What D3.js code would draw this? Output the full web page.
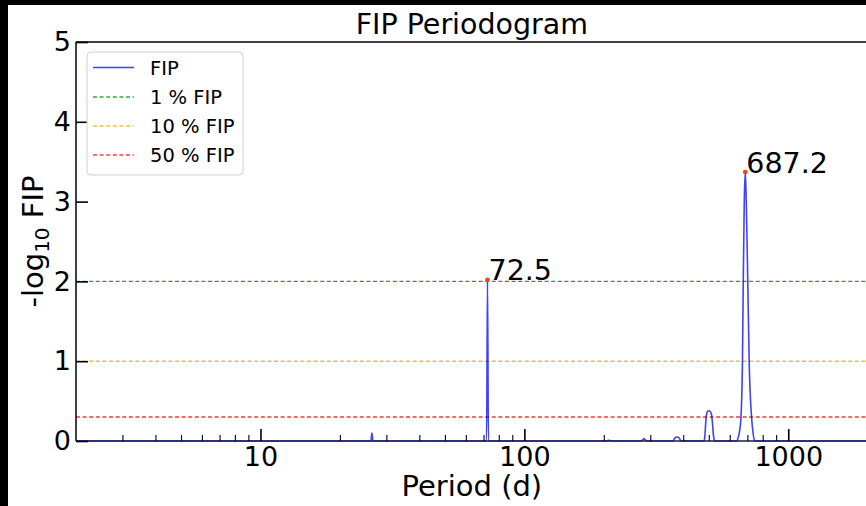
<!DOCTYPE html>
<html>
<head>
<meta charset="utf-8">
<script src="https://cdn.jsdelivr.net/npm/d3@7"></script>
<style>
  html, body { margin: 0; padding: 0; background: #000; }
  svg { display: block; }
  text { font-family: "DejaVu Sans", sans-serif; fill: #000; }
</style>
</head>
<body>
<svg id="chart" width="866" height="506"></svg>
<script>
// ---------- data ----------
const curvePeriod = [2, 26.2, 26.45, 26.7, 71.9, 72.5, 73.1,
  203, 209, 216, 277, 284, 291, 366, 372, 379, 386, 392,
  479, 483, 486, 490, 495, 500, 506, 512, 517, 521, 527,
  635.3, 652.1, 661.9, 670.6, 675.3, 681.2, 687.2, 693.2, 702.4, 711.0, 726.0, 735.6, 746.5, 2000];
const curveFIP = [0, 0, 0.1, 0, 0, 2.02, 0,
  0, 0.008, 0, 0, 0.03, 0, 0, 0.04, 0.05, 0.04, 0,
  0, 0.06, 0.2, 0.33, 0.375, 0.38, 0.37, 0.33, 0.2, 0.06, 0,
  0, 0.1, 0.3, 1.0, 2.0, 3.0, 3.37, 3.0, 2.0, 1.0, 0.3, 0.1, 0, 0];
const thresholdValues = [2, 1, 0.30103];
const thresholdLabels = ["1 % FIP", "10 % FIP", "50 % FIP"];
const thresholdColors = ["green", "orange", "red"];
const peakPeriods = [72.5, 687.2];
const peakValues = [2.02, 3.37];
const peakLabels = ["72.5", "687.2"];
const xTicks = [10, 100, 1000];
const yTicks = [0, 1, 2, 3, 4, 5];
const xDomain = [2, 2000];
const yDomain = [0, 5];

// ---------- layout ----------
const svg = d3.select("#chart");
svg.append("rect").attr("x", 8).attr("y", 5).attr("width", 858).attr("height", 501).attr("fill", "#fff");

const pLeft = 76, pRight = 76 + 3 * 263.9, pTop = 42, pBottom = 441;
const x = d3.scaleLog().domain(xDomain).range([pLeft, pRight]);
const y = d3.scaleLinear().domain(yDomain).range([pBottom, pTop]);

const plot = svg.append("g");
plot.append("clipPath").attr("id", "clip").append("rect")
  .attr("x", pLeft).attr("y", pTop - 5).attr("width", pRight - pLeft).attr("height", pBottom - pTop + 10);

// threshold lines
thresholdValues.forEach((v, i) => {
  plot.append("line")
    .attr("x1", pLeft).attr("x2", pRight)
    .attr("y1", y(v)).attr("y2", y(v))
    .attr("stroke", thresholdColors[i]).attr("stroke-opacity", 0.8)
    .attr("stroke-width", 1.4).attr("stroke-dasharray", "4,2.6");
});

// curve
const pts = curvePeriod.map((p, i) => [x(p), y(curveFIP[i])]);
const line = d3.line().curve(d3.curveMonotoneX);
plot.append("path").attr("d", line(pts)).attr("clip-path", "url(#clip)")
  .attr("fill", "none").attr("stroke", "blue").attr("stroke-opacity", 0.75).attr("stroke-width", 1.6);

// peaks
peakPeriods.forEach((p, i) => {
  plot.append("circle").attr("cx", x(p)).attr("cy", y(peakValues[i])).attr("r", 2.4).attr("fill", "#f4401c");
  plot.append("text").attr("x", x(p) + 1).attr("y", y(peakValues[i]) + 0.5)
    .attr("font-size", 28.5).text(peakLabels[i]);
});

// spines
const spine = svg.append("g").attr("stroke", "#000").attr("stroke-width", 1.5);
spine.append("line").attr("x1", pLeft).attr("x2", pLeft).attr("y1", pTop).attr("y2", pBottom);
spine.append("line").attr("x1", pLeft).attr("x2", pRight).attr("y1", pTop).attr("y2", pTop);
spine.append("line").attr("x1", pLeft).attr("x2", pRight).attr("y1", pBottom).attr("y2", pBottom).attr("stroke", "#1a1a55");
spine.append("line").attr("x1", pRight).attr("x2", pRight).attr("y1", pTop).attr("y2", pBottom);

// x axis ticks (inward)
const xAxis = d3.axisBottom(x).tickValues(xTicks).tickSize(-12).tickPadding(6).tickFormat(d3.format("d"));
const gx = svg.append("g").attr("transform", `translate(0,${pBottom})`).call(xAxis);
gx.select(".domain").remove();
gx.selectAll(".tick line").attr("stroke", "#000").attr("stroke-width", 1.6);
gx.selectAll(".tick text").attr("font-size", 27).attr("font-family", "DejaVu Sans").attr("fill", "#000");

const minorTicks = [];
for (let e = 0; e <= 3; e++) for (let m = 2; m <= 9; m++) {
  const v = m * Math.pow(10, e);
  if (v > xDomain[0] && v < xDomain[1] && !xTicks.includes(v)) minorTicks.push(v);
}
const xMinor = d3.axisBottom(x).tickValues(minorTicks).tickSize(-6).tickFormat("");
const gxm = svg.append("g").attr("transform", `translate(0,${pBottom})`).call(xMinor);
gxm.select(".domain").remove();
gxm.selectAll(".tick line").attr("stroke", "#000").attr("stroke-width", 1.1);

// y axis ticks (inward)
const yAxis = d3.axisLeft(y).tickValues(yTicks).tickSize(-12).tickPadding(5).tickFormat(d3.format("d"));
const gy = svg.append("g").attr("transform", `translate(${pLeft},0)`).call(yAxis);
gy.select(".domain").remove();
gy.selectAll(".tick line").attr("stroke", "#000").attr("stroke-width", 1.6);
gy.selectAll(".tick text").attr("font-size", 27).attr("font-family", "DejaVu Sans").attr("fill", "#000");

// title and labels
const cx = (pLeft + pRight) / 2;
svg.append("text").attr("x", cx).attr("y", 34).attr("text-anchor", "middle").attr("font-size", 28.5).text("FIP Periodogram");
svg.append("text").attr("x", cx).attr("y", 496).attr("text-anchor", "middle").attr("font-size", 29).text("Period (d)");
const yl = svg.append("text").attr("transform", `translate(43,${(pTop + pBottom) / 2}) rotate(-90)`)
  .attr("text-anchor", "middle").attr("font-size", 29);
yl.append("tspan").text("-log");
yl.append("tspan").attr("font-size", 20).attr("dy", 6).text("10");
yl.append("tspan").attr("dy", -6).text(" FIP");

// legend
const lg = svg.append("g");
lg.append("rect").attr("x", 87).attr("y", 52).attr("width", 156).attr("height", 123).attr("rx", 4)
  .attr("fill", "#fff").attr("fill-opacity", 0.85).attr("stroke", "#d0d0d0").attr("stroke-width", 1);
const legendLabels = ["FIP"].concat(thresholdLabels);
const legendColors = ["blue"].concat(thresholdColors);
const rowY = [67.5, 97, 126, 155];
legendLabels.forEach((lab, i) => {
  const l = lg.append("line").attr("x1", 93).attr("x2", 134).attr("y1", rowY[i]).attr("y2", rowY[i])
    .attr("stroke", legendColors[i]).attr("stroke-opacity", 0.75).attr("stroke-width", i === 0 ? 1.6 : 1.4);
  if (i > 0) l.attr("stroke-dasharray", "4,2.6");
  lg.append("text").attr("x", 150).attr("y", rowY[i] + 7).attr("font-size", 19.5).text(lab);
});
</script>
</body>
</html>
